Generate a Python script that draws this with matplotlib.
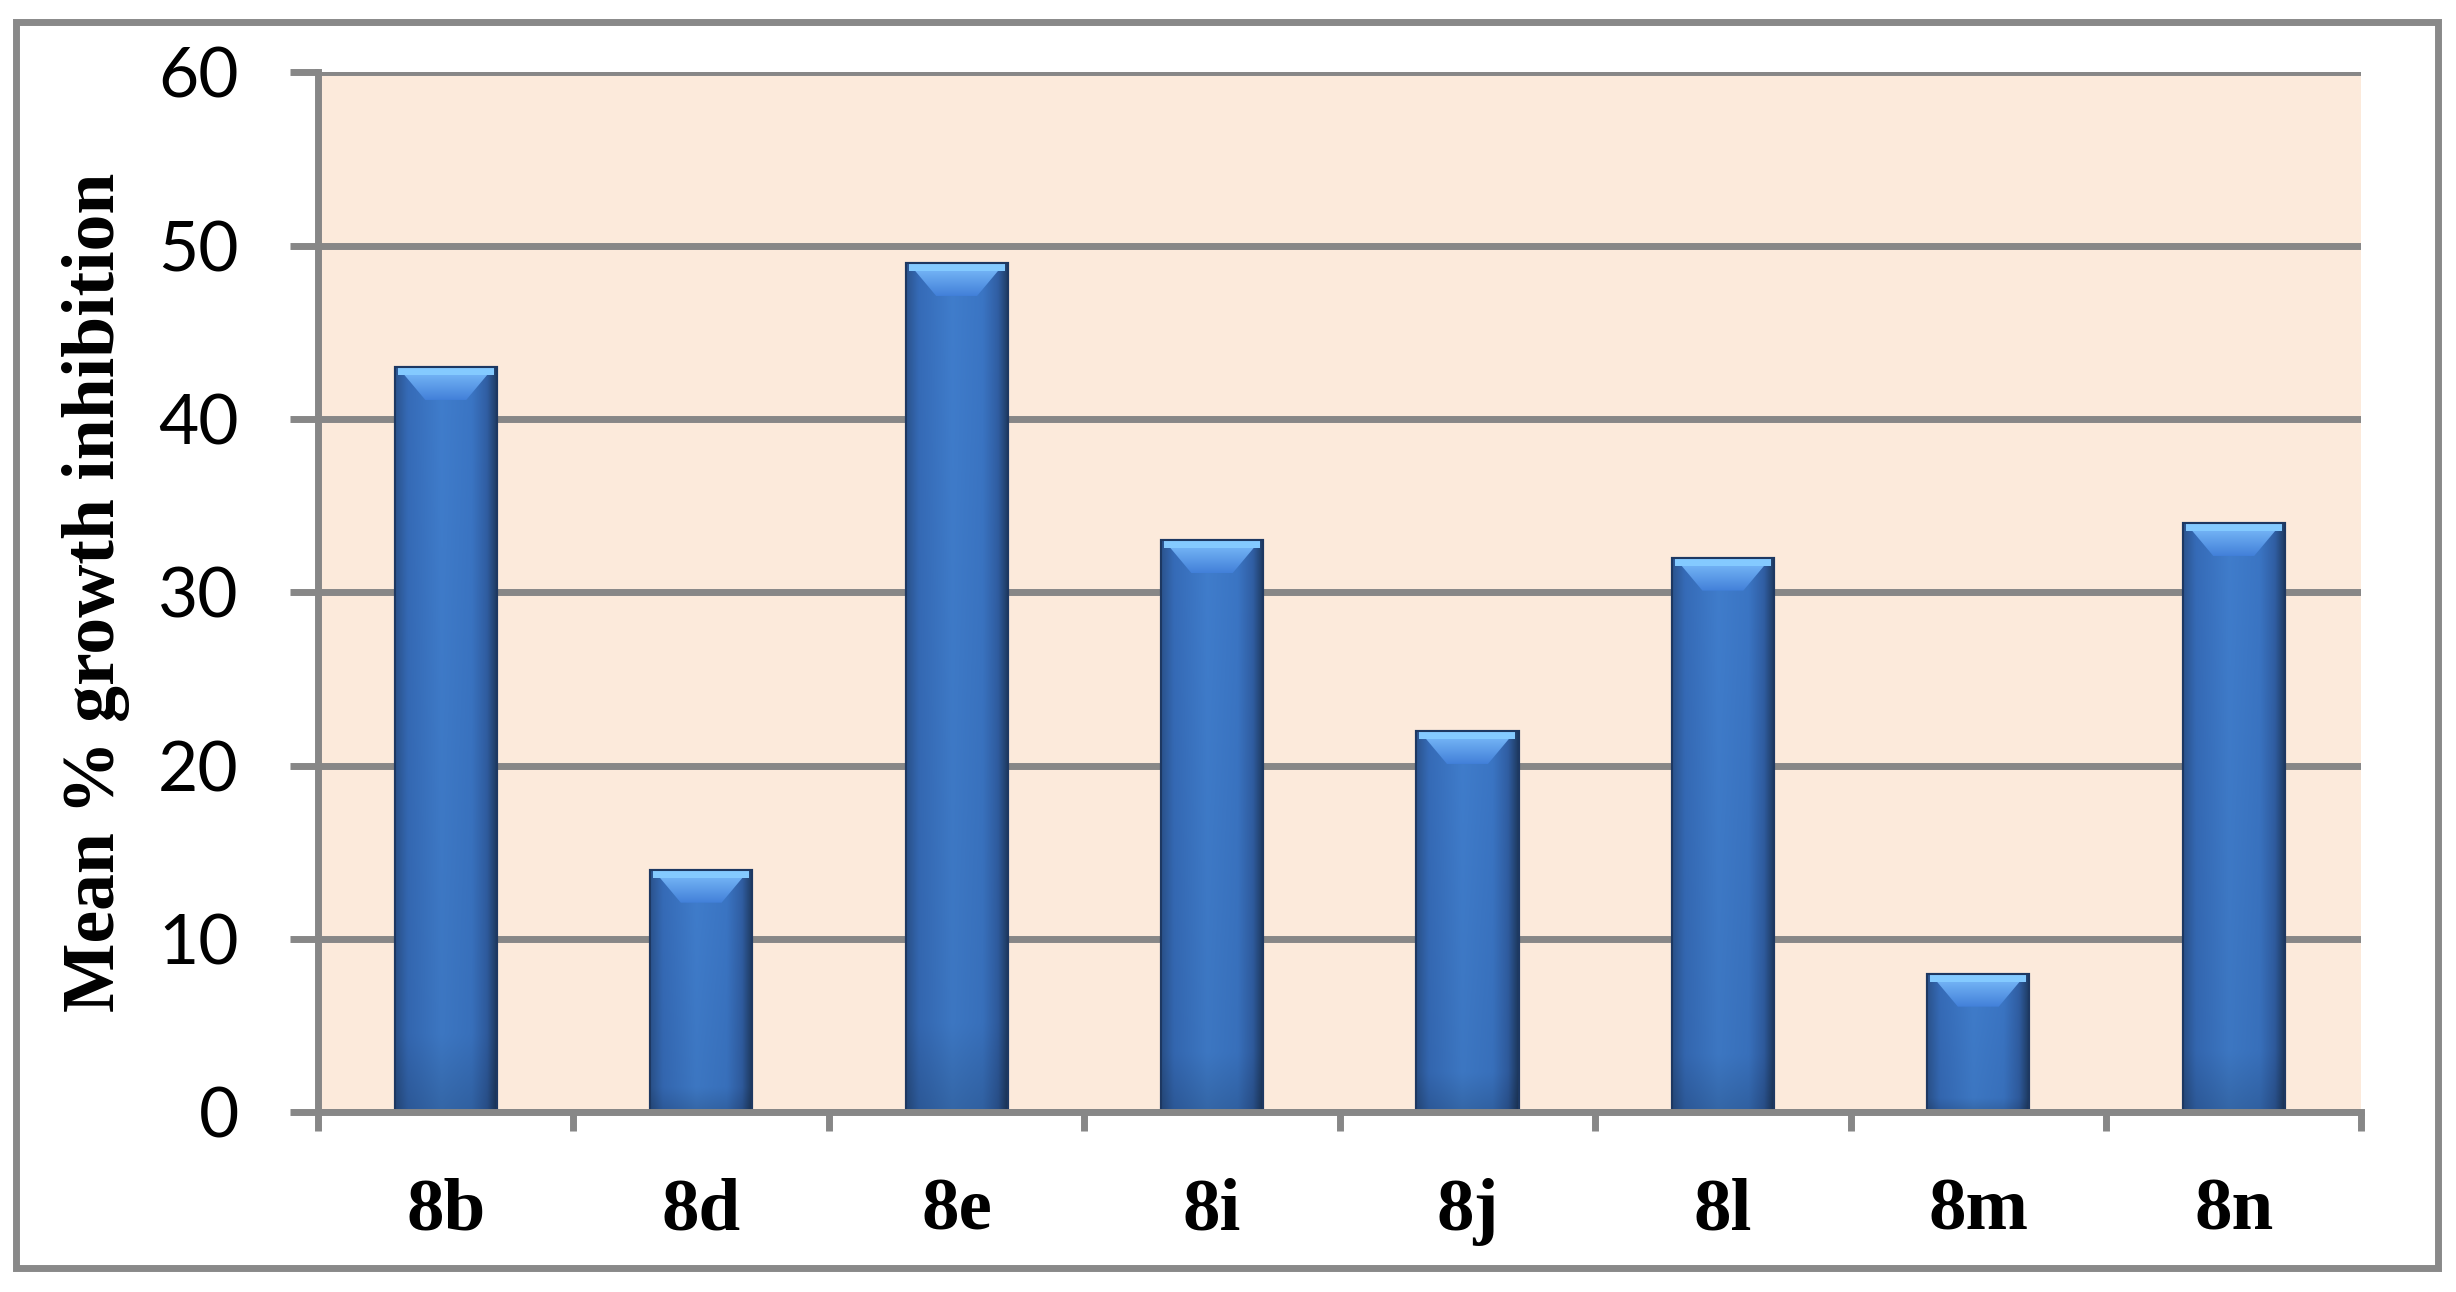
import numpy as np
import matplotlib
matplotlib.use('Agg')
import matplotlib.pyplot as plt
from matplotlib.patches import Polygon, Rectangle

# data
compounds = ['8b', '8d', '8e', '8i', '8j', '8l', '8m', '8n']
inhibition = [43, 14, 49, 33, 22, 32, 8, 34]
yticks = [0, 10, 20, 30, 40, 50, 60]

grid_col = '#878787'
bg_col = '#FCEADB'

fig = plt.figure(figsize=(24.56, 12.92), dpi=100)
ax = fig.add_axes([0.1295, 0.139, 0.832, 0.805])
ax.set_facecolor(bg_col)

x = np.arange(len(compounds))
bars = ax.bar(x, inhibition, width=0.4, color='#3A74BE', edgecolor='#203F6B',
              linewidth=1.5, zorder=3)

# horizontal shading so the bars look like cylinders
stops = [0.0, 0.12, 0.45, 0.75, 0.9, 1.0]
cols = np.array([[0.17, 0.33, 0.56], [0.21, 0.42, 0.72], [0.25, 0.49, 0.80],
                 [0.23, 0.46, 0.77], [0.19, 0.37, 0.64], [0.12, 0.23, 0.38]])
t = np.linspace(0, 1, 64)
row = np.stack([np.interp(t, stops, cols[:, k]) for k in range(3)], axis=1)
vert = np.interp(np.linspace(0, 1, 128), [0, 0.9, 1], [1.0, 0.95, 0.82])[:, None, None]
img = np.clip(row[None, :, :] * vert, 0, 1)

# gradient for the bevel on top of each bar
bev_top = np.array([0.50, 0.76, 0.99])
bev_bot = np.array([0.26, 0.50, 0.85])
s = np.linspace(0, 1, 64)[:, None]
bev_img = (bev_top * (1 - s) + bev_bot * s)[:, None, :].repeat(8, axis=1)

for b in bars:
    x0, w, h = b.get_x(), b.get_width(), b.get_height()
    im = ax.imshow(img, extent=[x0, x0 + w, 0, h], aspect='auto',
                   interpolation='bilinear', zorder=3.5)
    im.set_clip_path(b)
    dh = 1.9
    bevel = Polygon([(x0 + 0.012, h), (x0 + w - 0.012, h),
                     (x0 + w - 0.3 * w, h - dh), (x0 + 0.3 * w, h - dh)],
                    closed=True, facecolor='none', edgecolor='none', zorder=4)
    ax.add_patch(bevel)
    bim = ax.imshow(bev_img, extent=[x0, x0 + w, h - dh, h], aspect='auto',
                    interpolation='bilinear', zorder=4)
    bim.set_clip_path(bevel)
    ax.add_patch(Rectangle((x0 + 0.012, h - 0.45), w - 0.024, 0.45,
                           facecolor='#84CAFF', edgecolor='none', zorder=4.1))
    ax.add_patch(Rectangle((x0, 0), w, h, facecolor='none', edgecolor='#1D3862',
                           linewidth=1.5, zorder=4.2))

ax.set_xlim(-0.5, len(compounds) - 0.5)
ax.set_ylim(0, 60)

ax.set_yticks(yticks)
ax.set_yticklabels([str(v) for v in yticks], fontfamily='Lato', fontsize=50)
ax.yaxis.grid(True, color=grid_col, linewidth=5, zorder=1)
ax.set_axisbelow(True)
ax.tick_params(axis='y', length=20, width=5, color=grid_col, pad=37)

ax.set_xticks(x)
ax.set_xticklabels(compounds, fontfamily='Liberation Serif', fontweight='bold',
                   fontsize=54)
ax.tick_params(axis='x', which='major', length=0, pad=47)
ax.set_xticks(np.arange(len(compounds) + 1) - 0.5, minor=True)
ax.tick_params(axis='x', which='minor', length=14, width=5, color=grid_col)

for sp in ['top', 'right']:
    ax.spines[sp].set_visible(False)
for sp in ['left', 'bottom']:
    ax.spines[sp].set_color(grid_col)
    ax.spines[sp].set_linewidth(5)
    ax.spines[sp].set_zorder(5)

ax.set_ylabel('Mean % growth inhibition', fontfamily='Liberation Serif',
              fontweight='bold', fontsize=53)
ax.yaxis.set_label_coords(-0.092, 0.5)

# outer frame around the whole chart
fig.patches.append(Rectangle((0.0065, 0.0186), 0.986, 0.9644,
                             transform=fig.transFigure, fill=False,
                             edgecolor='#898989', linewidth=5))

fig.savefig('out.png', dpi=100)
